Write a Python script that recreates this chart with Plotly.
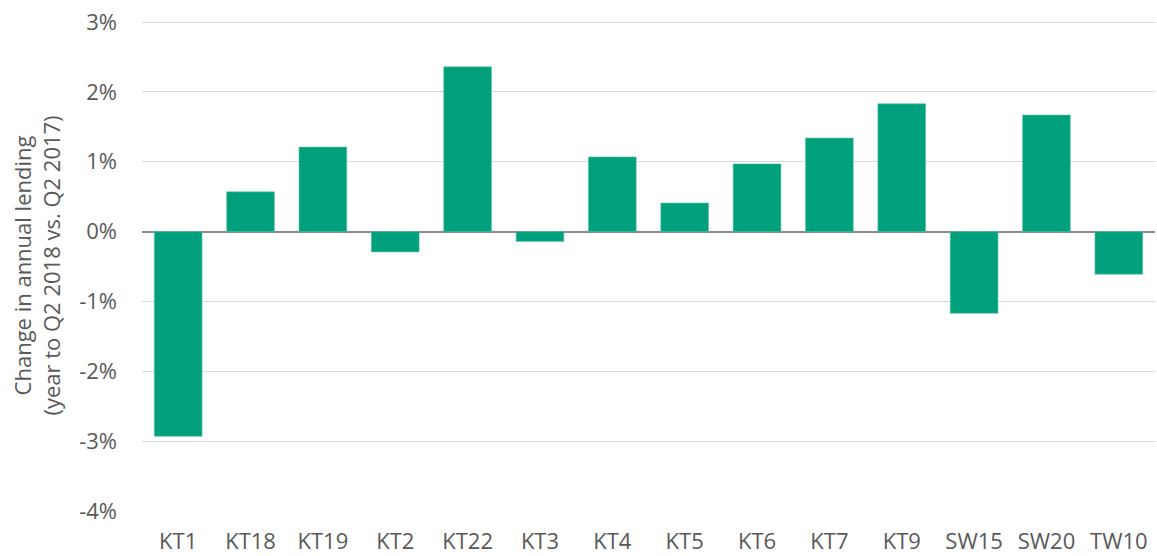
import plotly.graph_objects as go

categories = ["KT1", "KT18", "KT19", "KT2", "KT22", "KT3", "KT4", "KT5", "KT6", "KT7", "KT9", "SW15", "SW20", "TW10"]
values = [-2.93, 0.57, 1.21, -0.29, 2.36, -0.14, 1.07, 0.41, 0.97, 1.34, 1.83, -1.17, 1.67, -0.61]
yticks = [-4, -3, -2, -1, 0, 1, 2, 3]
ytick_labels = [f"{v}%" for v in yticks]

font_family = "Open Sans, Liberation Sans, sans-serif"
text_color = "#595959"
fs = 22

fig = go.Figure(go.Bar(
    x=categories,
    y=values,
    marker=dict(color="#00A07C", line=dict(color="#5FC4A8", width=0.6)),
    width=0.66,
))

fig.update_layout(
    width=1157, height=556,
    margin=dict(l=142, r=2, t=20, b=45),
    paper_bgcolor="white", plot_bgcolor="white",
    showlegend=False,
    font=dict(family=font_family, size=fs, color=text_color),
)
fig.update_xaxes(
    showgrid=False, showline=False, ticks="",
    tickfont=dict(size=fs, color=text_color),
    ticklabelstandoff=15,
    automargin=False,
)
fig.update_yaxes(
    range=[-4.0, 3.03],
    tickvals=yticks, ticktext=ytick_labels,
    showgrid=True, gridcolor="#D9D9D9", gridwidth=1.3,
    zeroline=True, zerolinecolor="#8C8C8C", zerolinewidth=1.6,
    showline=False, ticks="",
    tickfont=dict(size=fs, color=text_color),
    ticklabelstandoff=24,
    automargin=False,
    title=dict(text="Change in annual lending<br>(year to Q2 2018 vs. Q2 2017)",
               font=dict(size=fs, color=text_color), standoff=12),
)

fig.write_html(
    "out.html",
    config={"displayModeBar": False},
    post_script="document.body.style.margin='0';document.body.style.overflow='hidden';",
)
